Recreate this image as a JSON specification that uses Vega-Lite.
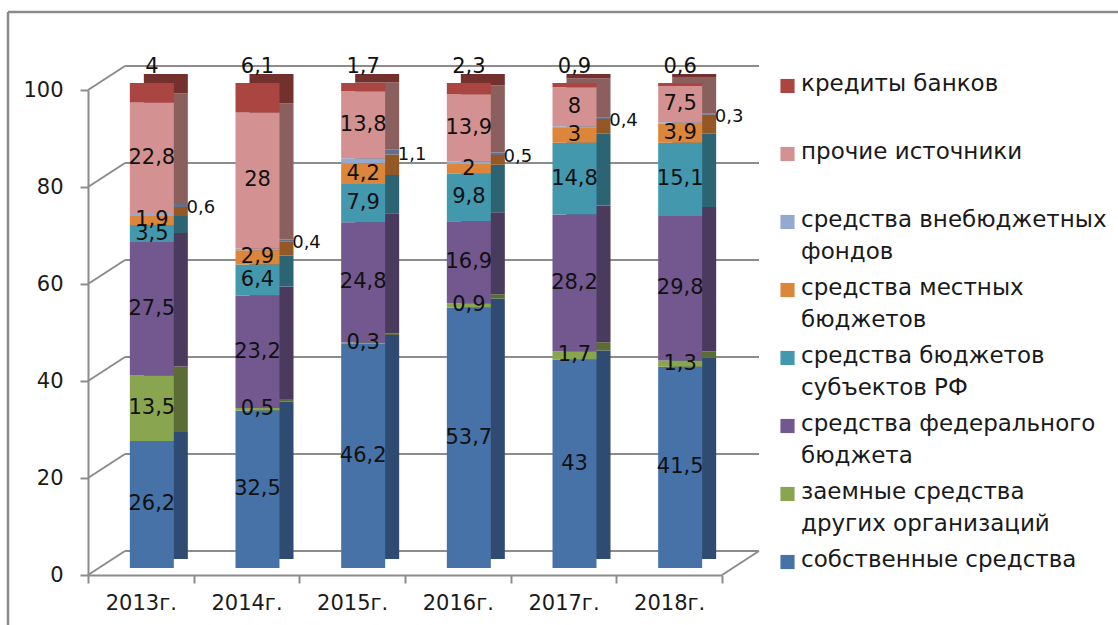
{
  "$schema": "https://vega.github.io/schema/vega-lite/v6.json",
  "width": 634,
  "height": 485,
  "autosize": {"type": "none"},
  "padding": {"left": 88, "top": 90, "right": 396, "bottom": 50},
  "background": "white",
  "config": {
    "view": {"stroke": null},
    "font": "DejaVu Sans",
    "locale": {"number": {"decimal": ",", "thousands": " ", "grouping": [3], "currency": ["", ""]}}
  },
  "data": {
    "values": [
      {"y": "2013г.", "s": "собственные средства", "v": 26.2, "o": 1},
      {"y": "2013г.", "s": "заемные средства других организаций", "v": 13.5, "o": 2},
      {"y": "2013г.", "s": "средства федерального бюджета", "v": 27.5, "o": 3},
      {"y": "2013г.", "s": "средства бюджетов субъектов РФ", "v": 3.5, "o": 4},
      {"y": "2013г.", "s": "средства местных бюджетов", "v": 1.9, "o": 5},
      {"y": "2013г.", "s": "средства внебюджетных фондов", "v": 0.6, "o": 6},
      {"y": "2013г.", "s": "прочие источники", "v": 22.8, "o": 7},
      {"y": "2013г.", "s": "кредиты банков", "v": 4, "o": 8},
      {"y": "2014г.", "s": "собственные средства", "v": 32.5, "o": 1},
      {"y": "2014г.", "s": "заемные средства других организаций", "v": 0.5, "o": 2},
      {"y": "2014г.", "s": "средства федерального бюджета", "v": 23.2, "o": 3},
      {"y": "2014г.", "s": "средства бюджетов субъектов РФ", "v": 6.4, "o": 4},
      {"y": "2014г.", "s": "средства местных бюджетов", "v": 2.9, "o": 5},
      {"y": "2014г.", "s": "средства внебюджетных фондов", "v": 0.4, "o": 6},
      {"y": "2014г.", "s": "прочие источники", "v": 28, "o": 7},
      {"y": "2014г.", "s": "кредиты банков", "v": 6.1, "o": 8},
      {"y": "2015г.", "s": "собственные средства", "v": 46.2, "o": 1},
      {"y": "2015г.", "s": "заемные средства других организаций", "v": 0.3, "o": 2},
      {"y": "2015г.", "s": "средства федерального бюджета", "v": 24.8, "o": 3},
      {"y": "2015г.", "s": "средства бюджетов субъектов РФ", "v": 7.9, "o": 4},
      {"y": "2015г.", "s": "средства местных бюджетов", "v": 4.2, "o": 5},
      {"y": "2015г.", "s": "средства внебюджетных фондов", "v": 1.1, "o": 6},
      {"y": "2015г.", "s": "прочие источники", "v": 13.8, "o": 7},
      {"y": "2015г.", "s": "кредиты банков", "v": 1.7, "o": 8},
      {"y": "2016г.", "s": "собственные средства", "v": 53.7, "o": 1},
      {"y": "2016г.", "s": "заемные средства других организаций", "v": 0.9, "o": 2},
      {"y": "2016г.", "s": "средства федерального бюджета", "v": 16.9, "o": 3},
      {"y": "2016г.", "s": "средства бюджетов субъектов РФ", "v": 9.8, "o": 4},
      {"y": "2016г.", "s": "средства местных бюджетов", "v": 2, "o": 5},
      {"y": "2016г.", "s": "средства внебюджетных фондов", "v": 0.5, "o": 6},
      {"y": "2016г.", "s": "прочие источники", "v": 13.9, "o": 7},
      {"y": "2016г.", "s": "кредиты банков", "v": 2.3, "o": 8},
      {"y": "2017г.", "s": "собственные средства", "v": 43, "o": 1},
      {"y": "2017г.", "s": "заемные средства других организаций", "v": 1.7, "o": 2},
      {"y": "2017г.", "s": "средства федерального бюджета", "v": 28.2, "o": 3},
      {"y": "2017г.", "s": "средства бюджетов субъектов РФ", "v": 14.8, "o": 4},
      {"y": "2017г.", "s": "средства местных бюджетов", "v": 3, "o": 5},
      {"y": "2017г.", "s": "средства внебюджетных фондов", "v": 0.4, "o": 6},
      {"y": "2017г.", "s": "прочие источники", "v": 8, "o": 7},
      {"y": "2017г.", "s": "кредиты банков", "v": 0.9, "o": 8},
      {"y": "2018г.", "s": "собственные средства", "v": 41.5, "o": 1},
      {"y": "2018г.", "s": "заемные средства других организаций", "v": 1.3, "o": 2},
      {"y": "2018г.", "s": "средства федерального бюджета", "v": 29.8, "o": 3},
      {"y": "2018г.", "s": "средства бюджетов субъектов РФ", "v": 15.1, "o": 4},
      {"y": "2018г.", "s": "средства местных бюджетов", "v": 3.9, "o": 5},
      {"y": "2018г.", "s": "средства внебюджетных фондов", "v": 0.3, "o": 6},
      {"y": "2018г.", "s": "прочие источники", "v": 7.5, "o": 7},
      {"y": "2018г.", "s": "кредиты банков", "v": 0.6, "o": 8}
    ]
  },
  "transform": [
    {"stack": "v", "groupby": ["y"], "sort": [{"field": "o", "order": "ascending"}], "as": ["v0", "v1"]},
    {"calculate": "(datum.v0 + datum.v1) / 2", "as": "vm"}
  ],
  "layer": [
    {
      "data": {"values": [{"g": 100}]},
      "mark": {"type": "rule", "color": "#8a8a8a", "strokeWidth": 2.5, "xOffset": -80, "x2Offset": 500, "yOffset": -78},
      "encoding": {
        "x": {"datum": "2013г.", "type": "nominal", "bandPosition": 0},
        "x2": {"datum": "2018г.", "bandPosition": 1},
        "y": {"field": "g", "type": "quantitative"}
      }
    },
    {
      "data": {"values": [{"a": 0, "b": 100}]},
      "mark": {"type": "rule", "color": "#8a8a8a", "strokeWidth": 2.5, "xOffset": -80, "yOffset": 100, "y2Offset": -78},
      "encoding": {
        "x": {"datum": "2013г.", "type": "nominal", "bandPosition": 0},
        "y": {"field": "a", "type": "quantitative"},
        "y2": {"field": "b"}
      }
    },
    {
      "data": {"values": [{"g": 0}, {"g": 20}, {"g": 40}, {"g": 60}, {"g": 80}, {"g": 100}]},
      "mark": {"type": "rule", "color": "#8c8c8c", "strokeWidth": 2, "xOffset": 37, "x2Offset": 37, "yOffset": -24},
      "encoding": {
        "x": {"datum": "2013г.", "type": "nominal", "bandPosition": 0},
        "x2": {"datum": "2018г.", "bandPosition": 1},
        "y": {"field": "g", "type": "quantitative"}
      }
    },
    {
      "data": {"values": [{"g": 0}, {"g": 20}, {"g": 40}, {"g": 60}, {"g": 80}, {"g": 100}]},
      "mark": {"type": "rule", "color": "#8c8c8c", "strokeWidth": 2, "x2Offset": 37, "y2Offset": -24},
      "encoding": {
        "x": {"datum": "2013г.", "type": "nominal", "bandPosition": 0},
        "x2": {"datum": "2013г.", "bandPosition": 0},
        "y": {"field": "g", "type": "quantitative"},
        "y2": {"field": "g"}
      }
    },
    {
      "data": {"values": [{"g": 0}]},
      "mark": {"type": "rule", "color": "#8c8c8c", "strokeWidth": 2, "x2Offset": 37, "y2Offset": -24},
      "encoding": {
        "x": {"datum": "2018г.", "type": "nominal", "bandPosition": 1},
        "x2": {"datum": "2018г.", "bandPosition": 1},
        "y": {"field": "g", "type": "quantitative"},
        "y2": {"field": "g"}
      }
    },
    {
      "mark": {"type": "bar", "width": 44, "xOffset": 25, "yOffset": -16, "y2Offset": -16},
      "encoding": {
        "x": {"field": "y", "type": "nominal"},
        "y": {"field": "v0", "type": "quantitative"},
        "y2": {"field": "v1"},
        "color": {
          "field": "s", "type": "nominal", "legend": null,
          "scale": {
            "domain": ["кредиты банков", "прочие источники", "средства внебюджетных фондов", "средства местных бюджетов", "средства бюджетов субъектов РФ", "средства федерального бюджета", "заемные средства других организаций", "собственные средства"],
            "range": ["#73302d", "#8a5f5e", "#62708b", "#945826", "#2c6474", "#4a3a5e", "#5b6d34", "#2f4b72"]
          }
        }
      }
    },
    {
      "mark": {"type": "bar", "width": 44, "xOffset": 11, "yOffset": -7, "y2Offset": -7},
      "encoding": {
        "x": {
          "field": "y", "type": "nominal",
          "scale": {"paddingInner": 0, "paddingOuter": 0},
          "axis": {
            "title": null, "labelAngle": 0, "tickBand": "extent", "bandPosition": 0.5, "labelAlign": "center",
            "domainColor": "#8c8c8c", "domainWidth": 2, "tickColor": "#8c8c8c", "tickWidth": 2, "tickSize": 8,
            "labelFontSize": 21, "labelFont": "DejaVu Sans", "labelColor": "#1a1a1a", "labelPadding": 20
          }
        },
        "y": {
          "field": "v0", "type": "quantitative",
          "scale": {"domain": [0, 100], "nice": false},
          "axis": {
            "title": null, "values": [0, 20, 40, 60, 80, 100], "grid": false,
            "domainColor": "#8c8c8c", "domainWidth": 2, "tickColor": "#8c8c8c", "tickWidth": 2, "tickSize": 8,
            "labelFontSize": 21, "labelFont": "DejaVu Sans", "labelColor": "#1a1a1a", "labelPadding": 17
          }
        },
        "y2": {"field": "v1"},
        "color": {
          "field": "s", "type": "nominal",
          "scale": {
            "domain": ["кредиты банков", "прочие источники", "средства внебюджетных фондов", "средства местных бюджетов", "средства бюджетов субъектов РФ", "средства федерального бюджета", "заемные средства других организаций", "собственные средства"],
            "range": ["#ab4542", "#d39291", "#93a9cf", "#dc863c", "#4498ae", "#72588f", "#8aa54f", "#4672a7"]
          },
          "legend": {
            "title": null, "orient": "none", "legendX": 688, "legendY": -17, "padding": 0,
            "symbolType": "square", "symbolSize": 200, "symbolStrokeWidth": 0,
            "labelFontSize": 23, "labelFont": "DejaVu Sans", "labelColor": "#1a1a1a", "labelLimit": 400,
            "labelOffset": 2, "rowPadding": 13, "labelBaseline": "top",
            "labelExpr": "datum.label == 'средства внебюджетных фондов' ? ['средства внебюджетных', 'фондов'] : datum.label == 'средства местных бюджетов' ? ['средства местных', 'бюджетов'] : datum.label == 'средства бюджетов субъектов РФ' ? ['средства бюджетов', 'субъектов РФ'] : datum.label == 'средства федерального бюджета' ? ['средства федерального', 'бюджета'] : datum.label == 'заемные средства других организаций' ? ['заемные средства', 'других организаций'] : [datum.label, ' ']",
            "encode": {
              "labels": {"update": {"lineHeight": {"value": 32}, "y": {"value": 0}}},
              "symbols": {"update": {"y": {"value": 13}}}
            }
          }
        }
      }
    },
    {
      "transform": [{"filter": "datum.o != 6 && datum.o != 8"}],
      "mark": {"type": "text", "fontSize": 21, "font": "DejaVu Sans", "color": "#111111", "xOffset": 11, "yOffset": -7, "baseline": "middle"},
      "encoding": {
        "x": {"field": "y", "type": "nominal"},
        "y": {"field": "vm", "type": "quantitative"},
        "text": {"field": "v", "type": "quantitative", "format": ".1~f"}
      }
    },
    {
      "transform": [{"filter": "datum.o == 6"}],
      "mark": {"type": "text", "fontSize": 18, "font": "DejaVu Sans", "color": "#111111", "xOffset": 60, "yOffset": -13, "baseline": "middle"},
      "encoding": {
        "x": {"field": "y", "type": "nominal"},
        "y": {"field": "vm", "type": "quantitative"},
        "text": {"field": "v", "type": "quantitative", "format": ".1~f"}
      }
    },
    {
      "transform": [{"filter": "datum.o == 8"}],
      "mark": {"type": "text", "fontSize": 21, "font": "DejaVu Sans", "color": "#111111", "xOffset": 11, "yOffset": -23, "baseline": "middle"},
      "encoding": {
        "x": {"field": "y", "type": "nominal"},
        "y": {"field": "v1", "type": "quantitative"},
        "text": {"field": "v", "type": "quantitative", "format": ".1~f"}
      }
    }
  ],
  "resolve": {"scale": {"color": "independent"}}
}
